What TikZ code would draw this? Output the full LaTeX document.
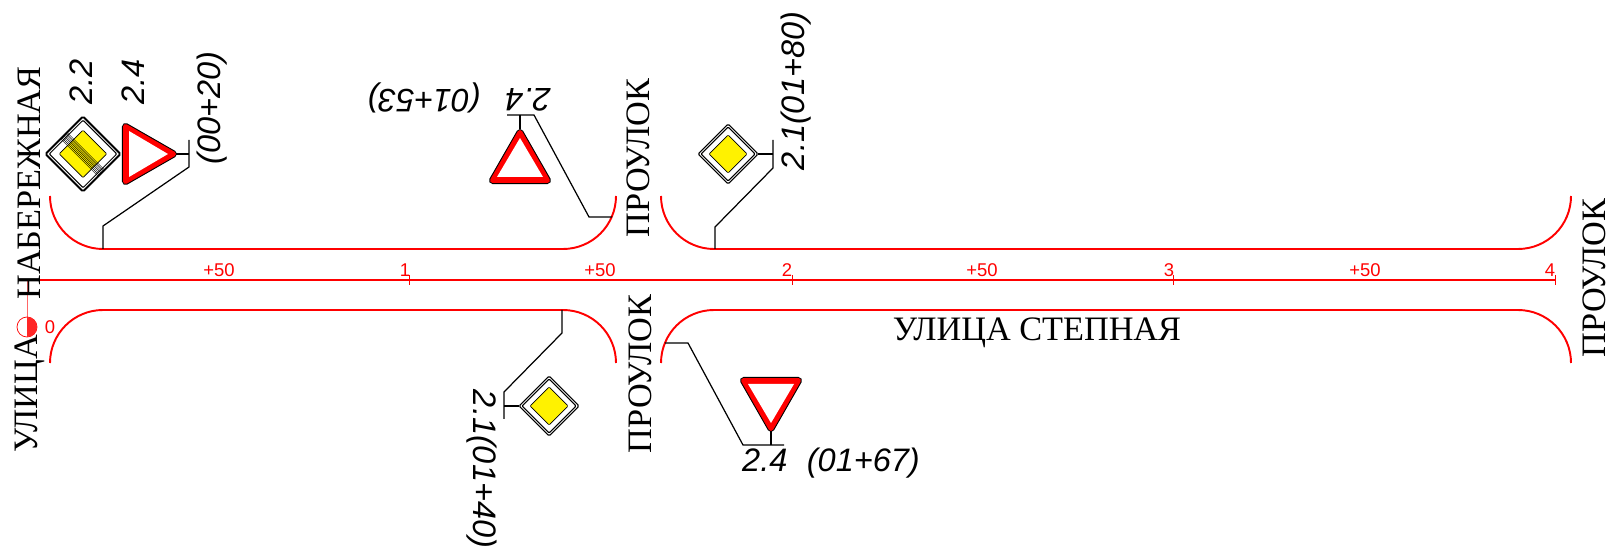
\documentclass[tikz,border=0pt]{standalone}
\usepackage{fontspec}
\setmainfont{Liberation Serif}
\newfontfamily\cadfont{Liberation Sans}
\tikzset{
  x=0.02cm,y=0.02cm,
  roadline/.style={red,line width=1.1pt},
  leader/.style={black,line width=0.7pt},
  streetname/.style={font=\fontsize{19.5}{20}\selectfont,inner sep=0pt},
  signlabel/.style={font=\cadfont\itshape\fontsize{18.5}{19}\selectfont,inner sep=0pt},
  kmlabel/.style={red,font=\cadfont\fontsize{10.5}{11}\selectfont,inner sep=0pt},
}
% triangle stands on its base, apex 55 above (#1,#2) before turning by #3
\newcommand{\givewaysign}[3]{
  \begin{scope}[shift={(#1,#2)},rotate=#3]
    \draw[black,fill=black,line width=4pt,line join=round] (-27.5,3.5) -- (27.5,3.5) -- (0,51.5) -- cycle;
    \draw[red,fill=red,line width=2.8pt,line join=round] (-27.5,3.5) -- (27.5,3.5) -- (0,51.5) -- cycle;
    \fill[white] (-23,7) -- (23,7) -- (0,46) -- cycle;
  \end{scope}
}
% diamond, half diagonal 30 times #3, outer line #4
\newcommand{\mainroadsign}[4]{
  \begin{scope}[shift={(#1,#2)},scale=#3]
    \filldraw[rounded corners=0.8pt,fill=white,line width=#4] (-30,0) -- (0,30) -- (30,0) -- (0,-30) -- cycle;
    \draw[rounded corners=0.6pt,line width=0.6pt] (-27,0) -- (0,27) -- (27,0) -- (0,-27) -- cycle;
    \filldraw[rounded corners=0.5pt,fill=yellow,line width=0.4pt] (-19,0) -- (0,19) -- (19,0) -- (0,-19) -- cycle;
  \end{scope}
}
\begin{document}
\begin{tikzpicture}
  \useasboundingbox (0,0) rectangle (1615,-553);
  % road edges
  \draw[roadline] (50,-196) arc (180:270:53) -- (563,-249) arc (270:360:53);
  \draw[roadline] (661,-196) arc (180:270:53) -- (1518,-249) arc (270:360:53);
  \draw[roadline] (50,-363) arc (180:90:53) -- (563,-310) arc (90:0:53);
  \draw[roadline] (661,-363) arc (180:90:53) -- (1518,-310) arc (90:0:53);
  % axis and pickets
  \draw[red,line width=0.9pt] (39,-280) -- (1555,-280);
  \draw[red!60,line width=0.4pt] (27,-280) -- (27,-317);
  \draw[red,line width=0.4pt] (27,-327) circle (10);
  \fill[red!85] (27,-317) arc (90:-90:10) -- cycle;
  \foreach \pk in {409,792,1173,1555}
    \draw[red,line width=0.3pt] (\pk,-275) -- (\pk,-285);
  \node[kmlabel] (km0) at (50,-327) {0};
  \node[kmlabel] (km1) at (405,-270) {1};
  \node[kmlabel] (km2) at (787,-270) {2};
  \node[kmlabel] (km3) at (1169,-270) {3};
  \node[kmlabel] (km4) at (1550,-270) {4};
  \node[kmlabel] (half1) at (219,-270) {+50};
  \node[kmlabel] (half2) at (600,-270) {+50};
  \node[kmlabel] (half3) at (982,-270) {+50};
  \node[kmlabel] (half4) at (1365,-270) {+50};
  % street names
  \node[streetname,rotate=90] (embank) at (29,-183) {НАБЕРЕЖНАЯ};
  \node[streetname,rotate=90] (street) at (30,-394) {УЛИЦА};
  \node[streetname,rotate=90] (lane1) at (638,-158) {ПРОУЛОК};
  \node[streetname,rotate=90] (lane2) at (640,-374) {ПРОУЛОК};
  \node[streetname,rotate=90] (lane3) at (1594,-278) {ПРОУЛОК};
  \node[streetname] (steppe) at (1037,-333) {УЛИЦА СТЕПНАЯ};
  % signs at 00+20
  \draw[leader] (103,-249) -- (103,-226) -- (189,-167) -- (189,-140);
  \draw[leader] (189,-154) -- (175,-154);
  \givewaysign{122}{-154}{-90}
  \mainroadsign{83}{-154}{1.25}{1.1pt}
  \begin{scope}[shift={(83,-154)},rotate=-45]
    \foreach \offs in {-5,-3.5,-2,-0.5,1,2.5,4}
      \draw[line width=0.25pt] (-27,\offs) -- (27,\offs);
  \end{scope}
  \node[signlabel,rotate=90] (lab22) at (81,-82) {2.2};
  \node[signlabel,rotate=90] (lab24a) at (133,-82) {2.4};
  \node[signlabel,rotate=90] (lab0020) at (212,-108) {(00+20)};
  % 01+53
  \draw[leader] (612,-217) -- (589,-217) -- (534,-115) -- (507,-115);
  \draw[leader] (520,-115) -- (520,-129);
  \givewaysign{520}{-184}{0}
  \node[signlabel,rotate=180] (lab24b) at (528,-100) {2.4};
  \node[signlabel,rotate=180] (lab0153) at (424,-98) {(01+53)};
  % 01+40
  \draw[leader] (562,-310) -- (562,-333) -- (504,-392) -- (504,-419);
  \draw[leader] (504,-406) -- (519,-406);
  \mainroadsign{549}{-406}{1}{0.6pt}
  \node[signlabel,rotate=-90] (lab0140) at (482,-469) {2.1(01+40)};
  % 01+80
  \draw[leader] (715,-249) -- (715,-227) -- (773,-168) -- (773,-140);
  \draw[leader] (773,-154) -- (758,-154);
  \mainroadsign{728}{-154}{1}{0.6pt}
  \node[signlabel,rotate=90] (lab0180) at (796,-91) {2.1(01+80)};
  % 01+67
  \draw[leader] (665,-343) -- (688,-343) -- (743,-445) -- (784,-445);
  \draw[leader] (771,-445) -- (771,-430);
  \givewaysign{771}{-377}{180}
  \node[signlabel] (lab0167) at (831,-463) {2.4\hspace{0.6em}(01+67)};
\end{tikzpicture}
\end{document}
